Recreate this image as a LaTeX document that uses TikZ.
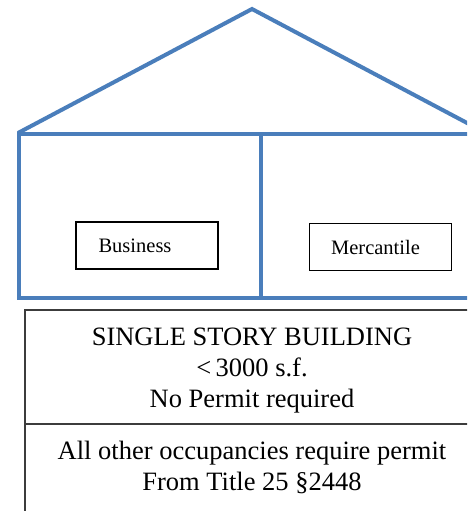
\documentclass[tikz,border=0pt]{standalone}
\usepackage{fontspec}
\setmainfont{Liberation Serif}
\definecolor{roofblue}{RGB}{74,126,187}
\definecolor{tablegray}{RGB}{60,60,60}
\begin{document}
\begin{tikzpicture}[x=1pt,y=-1pt,
  wall/.style={draw=roofblue,line width=4pt,line join=miter},
  roombox/.style={draw=black,line width=1.6pt,minimum width=142pt,minimum height=47pt,inner sep=0pt,font=\fontsize{20.5}{24}\selectfont},
  bigtext/.style={inner sep=0pt,anchor=base,font=\fontsize{26.5}{31}\selectfont},
  tableline/.style={draw=tablegray,line width=1.5pt}]
\useasboundingbox (0,0) rectangle (467,511);
\clip (0,0) rectangle (467,511);
% roof
\coordinate (apex) at (252,9);
\coordinate (eaveL) at (18,133);
\coordinate (eaveR) at (486,133);
\draw[wall] (eaveL) -- (apex) -- (eaveR);
% walls
\coordinate (tl) at (19,134);
\coordinate (tr) at (490,134);
\coordinate (bl) at (19,298);
\coordinate (br) at (490,298);
\coordinate (mt) at (261,134);
\coordinate (mb) at (261,298);
\draw[wall] (tr) -- (tl) -- (bl) -- (br);
\draw[wall] (mt) -- (mb);
% rooms
\node[roombox] (business) at (147,245.5) {\hspace*{-12pt}Business\hspace*{12pt}};
\node[roombox] (mercantile) at (380.5,247) {\hspace*{-5pt}Mercantile\hspace*{5pt}};
% table
\coordinate (t1) at (25,310);
\coordinate (t2) at (490,520);
\draw[tableline] (t1) rectangle (t2);
\coordinate (d1) at (25,424);
\coordinate (d2) at (490,424);
\draw[tableline] (d1) -- (d2);
% text
\node[bigtext] (l1) at (252,345) {SINGLE STORY BUILDING};
\node[bigtext] (l2) at (252,376) {<\,3000 s.f.};
\node[bigtext] (l3) at (252,407) {No Permit required};
\node[bigtext] (l4) at (252,459) {All other occupancies require permit};
\node[bigtext] (l5) at (252,490) {From Title 25 §2448};
\end{tikzpicture}
\end{document}
